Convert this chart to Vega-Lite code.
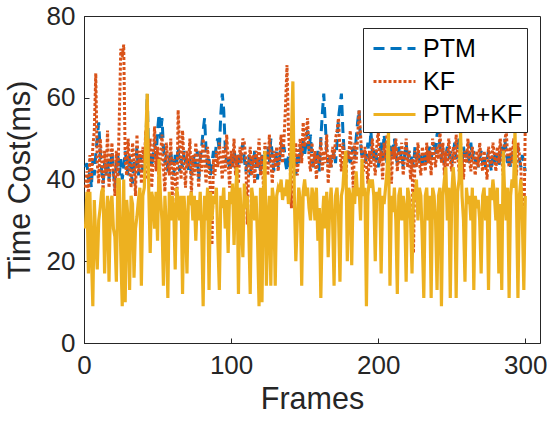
{
"$schema": "https://vega.github.io/schema/vega-lite/v6.json",
"width": 456, "height": 327,
"autosize": {"type": "none"},
"padding": {"left": 84, "top": 16, "right": 7, "bottom": 83},
"background": "white",
"config": {
  "font": "Liberation Sans",
  "view": {"stroke": "#262626", "strokeWidth": 1},
  "axis": {"grid": false, "domainColor": "#262626", "tickColor": "#262626", "tickSize": -5, "labelFontSize": 26, "labelColor": "#262626", "titleFontSize": 30.5, "titleFontWeight": "normal", "titleColor": "#262626", "labelFlush": false, "labelOverlap": false, "labelFont": "Liberation Sans", "titleFont": "Liberation Sans"}
},
"data": {"values": [
{"f":1,"PTM":43,"KF":38,"PTM+KF":28},{"f":2,"PTM":44,"KF":42,"PTM+KF":37},{"f":3,"PTM":40,"KF":36,"PTM+KF":17},{"f":4,"PTM":42,"KF":46,"PTM+KF":37},{"f":5,"PTM":38,"KF":40,"PTM+KF":22},{"f":6,"PTM":45,"KF":48,"PTM+KF":9},{"f":7,"PTM":41,"KF":52,"PTM+KF":35},{"f":8,"PTM":46,"KF":66,"PTM+KF":25},{"f":9,"PTM":50,"KF":44,"PTM+KF":18},{"f":10,"PTM":54,"KF":39,"PTM+KF":30},
{"f":11,"PTM":47,"KF":50,"PTM+KF":33},{"f":12,"PTM":42,"KF":45,"PTM+KF":37},{"f":13,"PTM":39,"KF":37,"PTM+KF":38},{"f":14,"PTM":44,"KF":47,"PTM+KF":17},{"f":15,"PTM":41,"KF":41,"PTM+KF":30},{"f":16,"PTM":45,"KF":52,"PTM+KF":36},{"f":17,"PTM":40,"KF":38,"PTM+KF":15},{"f":18,"PTM":43,"KF":44,"PTM+KF":34},{"f":19,"PTM":47,"KF":49,"PTM+KF":36},{"f":20,"PTM":42,"KF":42,"PTM+KF":28},
{"f":21,"PTM":38,"KF":36,"PTM+KF":26},{"f":22,"PTM":44,"KF":47,"PTM+KF":15},{"f":23,"PTM":46,"KF":40,"PTM+KF":40},{"f":24,"PTM":41,"KF":55,"PTM+KF":40},{"f":25,"PTM":45,"KF":72,"PTM+KF":22},{"f":26,"PTM":40,"KF":70,"PTM+KF":9},{"f":27,"PTM":43,"KF":73,"PTM+KF":40},{"f":28,"PTM":47,"KF":45,"PTM+KF":10},{"f":29,"PTM":44,"KF":41,"PTM+KF":35},{"f":30,"PTM":41,"KF":50,"PTM+KF":30},
{"f":31,"PTM":46,"KF":43,"PTM+KF":13},{"f":32,"PTM":42,"KF":38,"PTM+KF":36},{"f":33,"PTM":39,"KF":49,"PTM+KF":34},{"f":34,"PTM":45,"KF":45,"PTM+KF":16},{"f":35,"PTM":43,"KF":36,"PTM+KF":28},{"f":36,"PTM":48,"KF":51,"PTM+KF":31},{"f":37,"PTM":41,"KF":42,"PTM+KF":35},{"f":38,"PTM":44,"KF":47,"PTM+KF":38},{"f":39,"PTM":46,"KF":39,"PTM+KF":14},{"f":40,"PTM":42,"KF":48,"PTM+KF":36},
{"f":41,"PTM":45,"KF":44,"PTM+KF":38},{"f":42,"PTM":48,"KF":52,"PTM+KF":50},{"f":43,"PTM":61,"KF":40,"PTM+KF":61},{"f":44,"PTM":44,"KF":47,"PTM+KF":38},{"f":45,"PTM":47,"KF":50,"PTM+KF":22},{"f":46,"PTM":43,"KF":38,"PTM+KF":37},{"f":47,"PTM":46,"KF":45,"PTM+KF":35},{"f":48,"PTM":49,"KF":53,"PTM+KF":28},{"f":49,"PTM":45,"KF":42,"PTM+KF":37},{"f":50,"PTM":52,"KF":48,"PTM+KF":25},
{"f":51,"PTM":56,"KF":39,"PTM+KF":45},{"f":52,"PTM":50,"KF":46,"PTM+KF":36},{"f":53,"PTM":55,"KF":51,"PTM+KF":30},{"f":54,"PTM":48,"KF":43,"PTM+KF":14},{"f":55,"PTM":44,"KF":37,"PTM+KF":36},{"f":56,"PTM":46,"KF":49,"PTM+KF":28},{"f":57,"PTM":42,"KF":44,"PTM+KF":11},{"f":58,"PTM":45,"KF":41,"PTM+KF":37},{"f":59,"PTM":47,"KF":50,"PTM+KF":30},{"f":60,"PTM":43,"KF":36,"PTM+KF":36},
{"f":61,"PTM":41,"KF":45,"PTM+KF":33},{"f":62,"PTM":46,"KF":42,"PTM+KF":18},{"f":63,"PTM":44,"KF":31,"PTM+KF":38},{"f":64,"PTM":48,"KF":57,"PTM+KF":35},{"f":65,"PTM":42,"KF":48,"PTM+KF":30},{"f":66,"PTM":45,"KF":40,"PTM+KF":36},{"f":67,"PTM":43,"KF":52,"PTM+KF":12},{"f":68,"PTM":47,"KF":44,"PTM+KF":36},{"f":69,"PTM":44,"KF":38,"PTM+KF":30},{"f":70,"PTM":46,"KF":47,"PTM+KF":17},
{"f":71,"PTM":42,"KF":43,"PTM+KF":36},{"f":72,"PTM":45,"KF":50,"PTM+KF":35},{"f":73,"PTM":41,"KF":36,"PTM+KF":37},{"f":74,"PTM":44,"KF":46,"PTM+KF":30},{"f":75,"PTM":46,"KF":41,"PTM+KF":36},{"f":76,"PTM":43,"KF":49,"PTM+KF":25},{"f":77,"PTM":47,"KF":44,"PTM+KF":35},{"f":78,"PTM":40,"KF":38,"PTM+KF":30},{"f":79,"PTM":45,"KF":47,"PTM+KF":37},{"f":80,"PTM":48,"KF":42,"PTM+KF":28},
{"f":81,"PTM":52,"KF":50,"PTM+KF":9},{"f":82,"PTM":55,"KF":45,"PTM+KF":36},{"f":83,"PTM":47,"KF":39,"PTM+KF":30},{"f":84,"PTM":43,"KF":48,"PTM+KF":38},{"f":85,"PTM":45,"KF":43,"PTM+KF":13},{"f":86,"PTM":41,"KF":37,"PTM+KF":37},{"f":87,"PTM":44,"KF":24,"PTM+KF":30},{"f":88,"PTM":47,"KF":45,"PTM+KF":36},{"f":89,"PTM":45,"KF":41,"PTM+KF":34},{"f":90,"PTM":49,"KF":47,"PTM+KF":38},
{"f":91,"PTM":50,"KF":43,"PTM+KF":25},{"f":92,"PTM":47,"KF":49,"PTM+KF":13},{"f":93,"PTM":56,"KF":45,"PTM+KF":36},{"f":94,"PTM":61,"KF":40,"PTM+KF":33},{"f":95,"PTM":57,"KF":48,"PTM+KF":38},{"f":96,"PTM":48,"KF":42,"PTM+KF":28},{"f":97,"PTM":44,"KF":51,"PTM+KF":35},{"f":98,"PTM":46,"KF":44,"PTM+KF":22},{"f":99,"PTM":42,"KF":38,"PTM+KF":37},{"f":100,"PTM":45,"KF":47,"PTM+KF":34},
{"f":101,"PTM":43,"KF":43,"PTM+KF":39},{"f":102,"PTM":47,"KF":50,"PTM+KF":24},{"f":103,"PTM":45,"KF":41,"PTM+KF":36},{"f":104,"PTM":41,"KF":46,"PTM+KF":43},{"f":105,"PTM":46,"KF":39,"PTM+KF":12},{"f":106,"PTM":44,"KF":48,"PTM+KF":38},{"f":107,"PTM":47,"KF":44,"PTM+KF":30},{"f":108,"PTM":49,"KF":50,"PTM+KF":21},{"f":109,"PTM":45,"KF":49,"PTM+KF":39},{"f":110,"PTM":42,"KF":45,"PTM+KF":33},
{"f":111,"PTM":44,"KF":29,"PTM+KF":36},{"f":112,"PTM":46,"KF":44,"PTM+KF":28},{"f":113,"PTM":41,"KF":48,"PTM+KF":12},{"f":114,"PTM":45,"KF":41,"PTM+KF":38},{"f":115,"PTM":43,"KF":46,"PTM+KF":35},{"f":116,"PTM":47,"KF":39,"PTM+KF":30},{"f":117,"PTM":44,"KF":47,"PTM+KF":36},{"f":118,"PTM":40,"KF":43,"PTM+KF":25},{"f":119,"PTM":45,"KF":50,"PTM+KF":9},{"f":120,"PTM":42,"KF":41,"PTM+KF":38},
{"f":121,"PTM":46,"KF":46,"PTM+KF":10},{"f":122,"PTM":43,"KF":38,"PTM+KF":36},{"f":123,"PTM":47,"KF":49,"PTM+KF":47},{"f":124,"PTM":45,"KF":44,"PTM+KF":14},{"f":125,"PTM":48,"KF":41,"PTM+KF":30},{"f":126,"PTM":44,"KF":51,"PTM+KF":36},{"f":127,"PTM":50,"KF":45,"PTM+KF":14},{"f":128,"PTM":46,"KF":39,"PTM+KF":38},{"f":129,"PTM":42,"KF":47,"PTM+KF":35},{"f":130,"PTM":45,"KF":43,"PTM+KF":14},
{"f":131,"PTM":47,"KF":48,"PTM+KF":36},{"f":132,"PTM":43,"KF":42,"PTM+KF":38},{"f":133,"PTM":45,"KF":46,"PTM+KF":37},{"f":134,"PTM":49,"KF":51,"PTM+KF":40},{"f":135,"PTM":46,"KF":44,"PTM+KF":35},{"f":136,"PTM":48,"KF":50,"PTM+KF":38},{"f":137,"PTM":44,"KF":58,"PTM+KF":36},{"f":138,"PTM":42,"KF":68,"PTM+KF":40},{"f":139,"PTM":46,"KF":52,"PTM+KF":34},{"f":140,"PTM":44,"KF":45,"PTM+KF":37},
{"f":141,"PTM":47,"KF":33,"PTM+KF":50},{"f":142,"PTM":43,"KF":47,"PTM+KF":64},{"f":143,"PTM":45,"KF":43,"PTM+KF":36},{"f":144,"PTM":41,"KF":49,"PTM+KF":20},{"f":145,"PTM":46,"KF":41,"PTM+KF":30},{"f":146,"PTM":44,"KF":46,"PTM+KF":38},{"f":147,"PTM":48,"KF":50,"PTM+KF":35},{"f":148,"PTM":45,"KF":44,"PTM+KF":14},{"f":149,"PTM":50,"KF":54,"PTM+KF":37},{"f":150,"PTM":46,"KF":48,"PTM+KF":40},
{"f":151,"PTM":49,"KF":51,"PTM+KF":36},{"f":152,"PTM":52,"KF":55,"PTM+KF":38},{"f":153,"PTM":47,"KF":45,"PTM+KF":33},{"f":154,"PTM":51,"KF":42,"PTM+KF":30},{"f":155,"PTM":45,"KF":49,"PTM+KF":38},{"f":156,"PTM":43,"KF":43,"PTM+KF":36},{"f":157,"PTM":46,"KF":47,"PTM+KF":30},{"f":158,"PTM":44,"KF":40,"PTM+KF":38},{"f":159,"PTM":47,"KF":46,"PTM+KF":25},{"f":160,"PTM":42,"KF":44,"PTM+KF":33},
{"f":161,"PTM":50,"KF":50,"PTM+KF":11},{"f":162,"PTM":56,"KF":42,"PTM+KF":30},{"f":163,"PTM":61,"KF":47,"PTM+KF":36},{"f":164,"PTM":54,"KF":44,"PTM+KF":28},{"f":165,"PTM":47,"KF":51,"PTM+KF":37},{"f":166,"PTM":44,"KF":39,"PTM+KF":21},{"f":167,"PTM":46,"KF":46,"PTM+KF":33},{"f":168,"PTM":43,"KF":43,"PTM+KF":38},{"f":169,"PTM":45,"KF":48,"PTM+KF":30},{"f":170,"PTM":47,"KF":45,"PTM+KF":14},
{"f":171,"PTM":44,"KF":50,"PTM+KF":36},{"f":172,"PTM":49,"KF":52,"PTM+KF":38},{"f":173,"PTM":55,"KF":55,"PTM+KF":32},{"f":174,"PTM":58,"KF":47,"PTM+KF":15},{"f":175,"PTM":61,"KF":42,"PTM+KF":36},{"f":176,"PTM":52,"KF":49,"PTM+KF":38},{"f":177,"PTM":46,"KF":44,"PTM+KF":44},{"f":178,"PTM":43,"KF":40,"PTM+KF":47},{"f":179,"PTM":45,"KF":47,"PTM+KF":20},{"f":180,"PTM":47,"KF":45,"PTM+KF":38},
{"f":181,"PTM":44,"KF":52,"PTM+KF":36},{"f":182,"PTM":46,"KF":46,"PTM+KF":19},{"f":183,"PTM":48,"KF":38,"PTM+KF":38},{"f":184,"PTM":45,"KF":49,"PTM+KF":34},{"f":185,"PTM":50,"KF":44,"PTM+KF":42},{"f":186,"PTM":54,"KF":50,"PTM+KF":36},{"f":187,"PTM":57,"KF":57,"PTM+KF":38},{"f":188,"PTM":49,"KF":51,"PTM+KF":30},{"f":189,"PTM":45,"KF":45,"PTM+KF":45},{"f":190,"PTM":47,"KF":42,"PTM+KF":36},
{"f":191,"PTM":44,"KF":48,"PTM+KF":38},{"f":192,"PTM":46,"KF":44,"PTM+KF":9},{"f":193,"PTM":49,"KF":39,"PTM+KF":36},{"f":194,"PTM":45,"KF":47,"PTM+KF":40},{"f":195,"PTM":52,"KF":43,"PTM+KF":38},{"f":196,"PTM":47,"KF":50,"PTM+KF":40},{"f":197,"PTM":44,"KF":45,"PTM+KF":36},{"f":198,"PTM":48,"KF":41,"PTM+KF":20},{"f":199,"PTM":45,"KF":48,"PTM+KF":37},{"f":200,"PTM":43,"KF":52,"PTM+KF":35},
{"f":201,"PTM":46,"KF":44,"PTM+KF":38},{"f":202,"PTM":49,"KF":47,"PTM+KF":17},{"f":203,"PTM":45,"KF":40,"PTM+KF":36},{"f":204,"PTM":51,"KF":49,"PTM+KF":34},{"f":205,"PTM":47,"KF":45,"PTM+KF":38},{"f":206,"PTM":44,"KF":51,"PTM+KF":42},{"f":207,"PTM":46,"KF":43,"PTM+KF":52},{"f":208,"PTM":49,"KF":47,"PTM+KF":14},{"f":209,"PTM":45,"KF":39,"PTM+KF":36},{"f":210,"PTM":47,"KF":48,"PTM+KF":32},
{"f":211,"PTM":50,"KF":45,"PTM+KF":38},{"f":212,"PTM":46,"KF":50,"PTM+KF":30},{"f":213,"PTM":44,"KF":42,"PTM+KF":12},{"f":214,"PTM":48,"KF":47,"PTM+KF":36},{"f":215,"PTM":45,"KF":44,"PTM+KF":38},{"f":216,"PTM":47,"KF":49,"PTM+KF":30},{"f":217,"PTM":43,"KF":41,"PTM+KF":36},{"f":218,"PTM":46,"KF":46,"PTM+KF":33},{"f":219,"PTM":49,"KF":50,"PTM+KF":15},{"f":220,"PTM":45,"KF":43,"PTM+KF":38},
{"f":221,"PTM":47,"KF":47,"PTM+KF":36},{"f":222,"PTM":44,"KF":40,"PTM+KF":30},{"f":223,"PTM":46,"KF":45,"PTM+KF":17},{"f":224,"PTM":43,"KF":22,"PTM+KF":37},{"f":225,"PTM":48,"KF":47,"PTM+KF":35},{"f":226,"PTM":45,"KF":43,"PTM+KF":40},{"f":227,"PTM":47,"KF":49,"PTM+KF":30},{"f":228,"PTM":44,"KF":44,"PTM+KF":38},{"f":229,"PTM":46,"KF":41,"PTM+KF":36},{"f":230,"PTM":43,"KF":48,"PTM+KF":25},
{"f":231,"PTM":45,"KF":45,"PTM+KF":11},{"f":232,"PTM":47,"KF":42,"PTM+KF":36},{"f":233,"PTM":44,"KF":49,"PTM+KF":38},{"f":234,"PTM":46,"KF":44,"PTM+KF":30},{"f":235,"PTM":48,"KF":47,"PTM+KF":36},{"f":236,"PTM":45,"KF":41,"PTM+KF":11},{"f":237,"PTM":47,"KF":50,"PTM+KF":38},{"f":238,"PTM":49,"KF":46,"PTM+KF":36},{"f":239,"PTM":46,"KF":43,"PTM+KF":30},{"f":240,"PTM":51,"KF":48,"PTM+KF":13},
{"f":241,"PTM":52,"KF":45,"PTM+KF":36},{"f":242,"PTM":48,"KF":52,"PTM+KF":38},{"f":243,"PTM":45,"KF":44,"PTM+KF":9},{"f":244,"PTM":47,"KF":49,"PTM+KF":36},{"f":245,"PTM":44,"KF":41,"PTM+KF":40},{"f":246,"PTM":46,"KF":47,"PTM+KF":43},{"f":247,"PTM":48,"KF":43,"PTM+KF":30},{"f":248,"PTM":45,"KF":50,"PTM+KF":38},{"f":249,"PTM":47,"KF":45,"PTM+KF":11},{"f":250,"PTM":44,"KF":42,"PTM+KF":36},
{"f":251,"PTM":46,"KF":48,"PTM+KF":43},{"f":252,"PTM":49,"KF":44,"PTM+KF":38},{"f":253,"PTM":45,"KF":51,"PTM+KF":11},{"f":254,"PTM":47,"KF":46,"PTM+KF":37},{"f":255,"PTM":50,"KF":42,"PTM+KF":40},{"f":256,"PTM":46,"KF":49,"PTM+KF":52},{"f":257,"PTM":44,"KF":45,"PTM+KF":36},{"f":258,"PTM":48,"KF":40,"PTM+KF":30},{"f":259,"PTM":45,"KF":47,"PTM+KF":15},{"f":260,"PTM":47,"KF":44,"PTM+KF":38},
{"f":261,"PTM":44,"KF":50,"PTM+KF":34},{"f":262,"PTM":46,"KF":45,"PTM+KF":36},{"f":263,"PTM":49,"KF":42,"PTM+KF":30},{"f":264,"PTM":45,"KF":48,"PTM+KF":38},{"f":265,"PTM":47,"KF":44,"PTM+KF":13},{"f":266,"PTM":44,"KF":41,"PTM+KF":36},{"f":267,"PTM":46,"KF":47,"PTM+KF":33},{"f":268,"PTM":43,"KF":43,"PTM+KF":35},{"f":269,"PTM":45,"KF":49,"PTM+KF":30},{"f":270,"PTM":47,"KF":45,"PTM+KF":17},
{"f":271,"PTM":44,"KF":42,"PTM+KF":36},{"f":272,"PTM":46,"KF":47,"PTM+KF":38},{"f":273,"PTM":43,"KF":44,"PTM+KF":30},{"f":274,"PTM":45,"KF":40,"PTM+KF":36},{"f":275,"PTM":47,"KF":48,"PTM+KF":13},{"f":276,"PTM":44,"KF":45,"PTM+KF":38},{"f":277,"PTM":42,"KF":43,"PTM+KF":35},{"f":278,"PTM":46,"KF":49,"PTM+KF":40},{"f":279,"PTM":44,"KF":46,"PTM+KF":36},{"f":280,"PTM":47,"KF":42,"PTM+KF":30},
{"f":281,"PTM":45,"KF":48,"PTM+KF":38},{"f":282,"PTM":43,"KF":44,"PTM+KF":17},{"f":283,"PTM":46,"KF":50,"PTM+KF":34},{"f":284,"PTM":48,"KF":45,"PTM+KF":13},{"f":285,"PTM":45,"KF":41,"PTM+KF":47},{"f":286,"PTM":50,"KF":49,"PTM+KF":36},{"f":287,"PTM":47,"KF":52,"PTM+KF":30},{"f":288,"PTM":44,"KF":46,"PTM+KF":38},{"f":289,"PTM":46,"KF":43,"PTM+KF":11},{"f":290,"PTM":43,"KF":48,"PTM+KF":36},
{"f":291,"PTM":45,"KF":44,"PTM+KF":40},{"f":292,"PTM":47,"KF":50,"PTM+KF":38},{"f":293,"PTM":44,"KF":45,"PTM+KF":52},{"f":294,"PTM":46,"KF":41,"PTM+KF":35},{"f":295,"PTM":48,"KF":49,"PTM+KF":11},{"f":296,"PTM":45,"KF":46,"PTM+KF":36},{"f":297,"PTM":43,"KF":43,"PTM+KF":40},{"f":298,"PTM":46,"KF":30,"PTM+KF":30},{"f":299,"PTM":44,"KF":26,"PTM+KF":13},{"f":300,"PTM":42,"KF":54,"PTM+KF":36}
]},
"encoding": {
  "x": {"field": "f", "type": "quantitative", "scale": {"domain": [0, 310], "nice": false, "zero": false}, "axis": {"values": [0, 100, 200, 300], "title": "Frames", "labelPadding": 14, "titlePadding": 6}},
  "y": {"field": "value", "type": "quantitative", "scale": {"domain": [0, 80], "nice": false}, "axis": {"values": [0, 20, 40, 60, 80], "title": "Time Cost(ms)", "labelPadding": 14, "titlePadding": 11}},
  "color": {"field": "series", "type": "nominal", "scale": {"domain": ["PTM", "KF", "PTM+KF"], "range": ["#0072BD", "#D95319", "#EDB120"]},
    "legend": {"title": null, "orient": "none", "legendX": 279, "legendY": 12, "fillColor": "white", "strokeColor": "#262626", "padding": 4, "symbolType": "M-1.4,0H1.4", "symbolSize": 900, "symbolOffset": 11, "symbolStrokeWidth": 3, "labelFontSize": 25, "labelColor": "black", "labelFont": "Liberation Sans", "rowPadding": 3, "labelOffset": 12}},
  "strokeDash": {"field": "series", "type": "nominal", "scale": {"domain": ["PTM", "KF", "PTM+KF"], "range": [[11, 6], [3, 2], [1, 0]]}, "legend": {"title": null}}
},
"layer": [
  {"transform": [{"fold": ["PTM"], "as": ["series", "value"]}], "mark": {"type": "line", "strokeWidth": 3, "clip": true, "strokeCap": "butt"}},
  {"transform": [{"fold": ["KF"], "as": ["series", "value"]}], "mark": {"type": "line", "strokeWidth": 3, "clip": true, "strokeCap": "butt"}},
  {"transform": [{"fold": ["PTM+KF"], "as": ["series", "value"]}], "mark": {"type": "line", "strokeWidth": 3.2, "clip": true, "strokeCap": "butt"}}
]
}
